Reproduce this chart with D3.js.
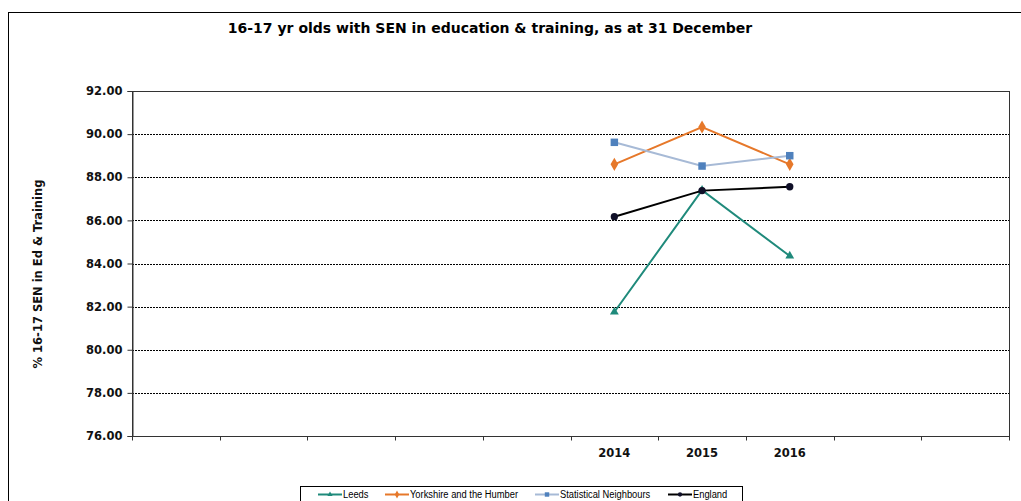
<!DOCTYPE html>
<html>
<head>
<meta charset="utf-8">
<script src="https://cdn.jsdelivr.net/npm/d3@7"></script>
<style>
body { margin: 0; background: #fff; }
svg { display: block; }
</style>
</head>
<body>
<div id="chart"></div>
<script>
// categories: 10 slots, only 2014-2016 labelled
var categories = ["c1", "c2", "c3", "c4", "c5", "2014", "2015", "2016", "c9", "c10"];
var years = ["2014", "2015", "2016"];
var leeds = [81.75, 87.40, 84.35];
var yorkshire = [88.60, 90.33, 88.60];
var statNeighbours = [89.62, 88.52, 89.00];
var england = [86.17, 87.38, 87.56];
var yTicks = [76, 78, 80, 82, 84, 86, 88, 90, 92];

var series = [
  { name: "Leeds", values: leeds, line: "#1f8a7b", fill: "#1f8a7b", symbol: d3.symbolTriangle, size: 34 },
  { name: "Yorkshire and the Humber", values: yorkshire, line: "#e6782a", fill: "#e6782a", symbol: d3.symbolDiamond, size: 50 },
  { name: "Statistical Neighbours", values: statNeighbours, line: "#a7bad6", fill: "#4f81bd", symbol: d3.symbolSquare, size: 56 },
  { name: "England", values: england, line: "#000000", fill: "#101028", symbol: d3.symbolCircle, size: 42 }
];

var width = 1021, height = 501;
var plotLeft = 132, plotRight = 1009, plotTop = 91, plotBottom = 436;

var svg = d3.select("#chart").append("svg")
  .attr("width", width)
  .attr("height", height);

// outer chart border
svg.append("rect")
  .attr("x", 8.5).attr("y", 12.5)
  .attr("width", 1040).attr("height", 520)
  .attr("fill", "none").attr("stroke", "#000").attr("stroke-width", 1);

var x = d3.scaleBand().domain(categories).range([plotLeft, plotRight]);
var y = d3.scaleLinear().domain([76, 92]).range([plotBottom, plotTop]);

// title
svg.append("text")
  .attr("x", 490).attr("y", 33)
  .attr("text-anchor", "middle")
  .attr("font-family", "DejaVu Sans, Verdana, sans-serif")
  .attr("font-weight", "bold")
  .attr("font-size", 14)
  .text("16-17 yr olds with SEN in education & training, as at 31 December");

// gridlines
svg.append("g").selectAll("line")
  .data(yTicks.filter(function(d) { return d > 76 && d < 92; }))
  .enter().append("line")
  .attr("x1", plotLeft).attr("x2", plotRight)
  .attr("y1", function(d) { return Math.round(y(d)) + 0.5; })
  .attr("y2", function(d) { return Math.round(y(d)) + 0.5; })
  .attr("stroke", "#000").attr("stroke-width", 1)
  .attr("stroke-dasharray", "2,1");

// plot frame
svg.append("rect")
  .attr("x", plotLeft + 0.5).attr("y", plotTop + 0.5)
  .attr("width", plotRight - plotLeft).attr("height", plotBottom - plotTop)
  .attr("fill", "none").attr("stroke", "#333").attr("stroke-width", 1);

// y axis
var yAxis = svg.append("g")
  .attr("transform", "translate(" + (plotLeft + 0.5) + ",0)")
  .call(d3.axisLeft(y).tickValues(yTicks).tickSize(5).tickPadding(5)
    .tickFormat(d3.format(".2f")));
yAxis.select(".domain").attr("stroke", "#333");
yAxis.selectAll(".tick line").attr("stroke", "#333");
yAxis.selectAll("text")
  .attr("font-family", "DejaVu Sans, Verdana, sans-serif")
  .attr("font-weight", "bold").attr("font-size", 11.5).attr("fill", "#111");

// x axis: ticks at band boundaries
var xAxisG = svg.append("g")
  .attr("transform", "translate(0," + (plotBottom + 0.5) + ")");
xAxisG.append("line")
  .attr("x1", plotLeft).attr("x2", plotRight)
  .attr("stroke", "#333");
xAxisG.selectAll(".tk")
  .data(categories.concat(["end"]))
  .enter().append("line")
  .attr("class", "tk")
  .attr("x1", function(d, i) { return Math.round(plotLeft + i * x.bandwidth()) + 0.5; })
  .attr("x2", function(d, i) { return Math.round(plotLeft + i * x.bandwidth()) + 0.5; })
  .attr("y1", 0).attr("y2", 4)
  .attr("stroke", "#333");
xAxisG.selectAll("text")
  .data(years)
  .enter().append("text")
  .attr("x", function(d) { return x(d) + x.bandwidth() / 2; })
  .attr("y", 20)
  .attr("text-anchor", "middle")
  .attr("font-family", "DejaVu Sans, Verdana, sans-serif")
  .attr("font-weight", "bold").attr("font-size", 11.5).attr("fill", "#111")
  .text(function(d) { return d; });

// y axis title
svg.append("text")
  .attr("transform", "translate(42,274) rotate(-90)")
  .attr("text-anchor", "middle")
  .attr("font-family", "DejaVu Sans, Verdana, sans-serif")
  .attr("font-weight", "bold").attr("font-size", 11.5).attr("fill", "#111")
  .text("% 16-17 SEN in Ed & Training");

// lines and markers
var line = d3.line()
  .x(function(d, i) { return x(years[i]) + x.bandwidth() / 2; })
  .y(function(d) { return y(d); });

series.forEach(function(s) {
  svg.append("path")
    .datum(s.values)
    .attr("d", line)
    .attr("fill", "none")
    .attr("stroke", s.line)
    .attr("stroke-width", 2);
  svg.append("g").selectAll("path")
    .data(s.values)
    .enter().append("path")
    .attr("transform", function(d, i) {
      return "translate(" + (x(years[i]) + x.bandwidth() / 2) + "," + y(d) + ")";
    })
    .attr("d", d3.symbol().type(s.symbol).size(s.size))
    .attr("fill", s.fill);
});

// legend
var legendX = [318, 385, 535, 668];
var legend = svg.append("g");
legend.append("rect")
  .attr("x", 300.5).attr("y", 486.5)
  .attr("width", 442).attr("height", 30)
  .attr("fill", "#fff").attr("stroke", "#000").attr("stroke-width", 1);
series.forEach(function(s, i) {
  var lx = legendX[i];
  legend.append("line")
    .attr("x1", lx).attr("x2", lx + 24)
    .attr("y1", 494.5).attr("y2", 494.5)
    .attr("stroke", s.line).attr("stroke-width", 2);
  legend.append("path")
    .attr("transform", "translate(" + (lx + 12) + ",494.5)")
    .attr("d", d3.symbol().type(s.symbol).size(s.size * 0.35))
    .attr("fill", s.fill);
  legend.append("text")
    .attr("transform", "translate(" + (lx + 25) + ",498) scale(0.85,1)")
    .attr("font-family", "Liberation Sans, Arial, sans-serif")
    .attr("font-size", 11).attr("fill", "#000")
    .text(s.name);
});
</script>
</body>
</html>
